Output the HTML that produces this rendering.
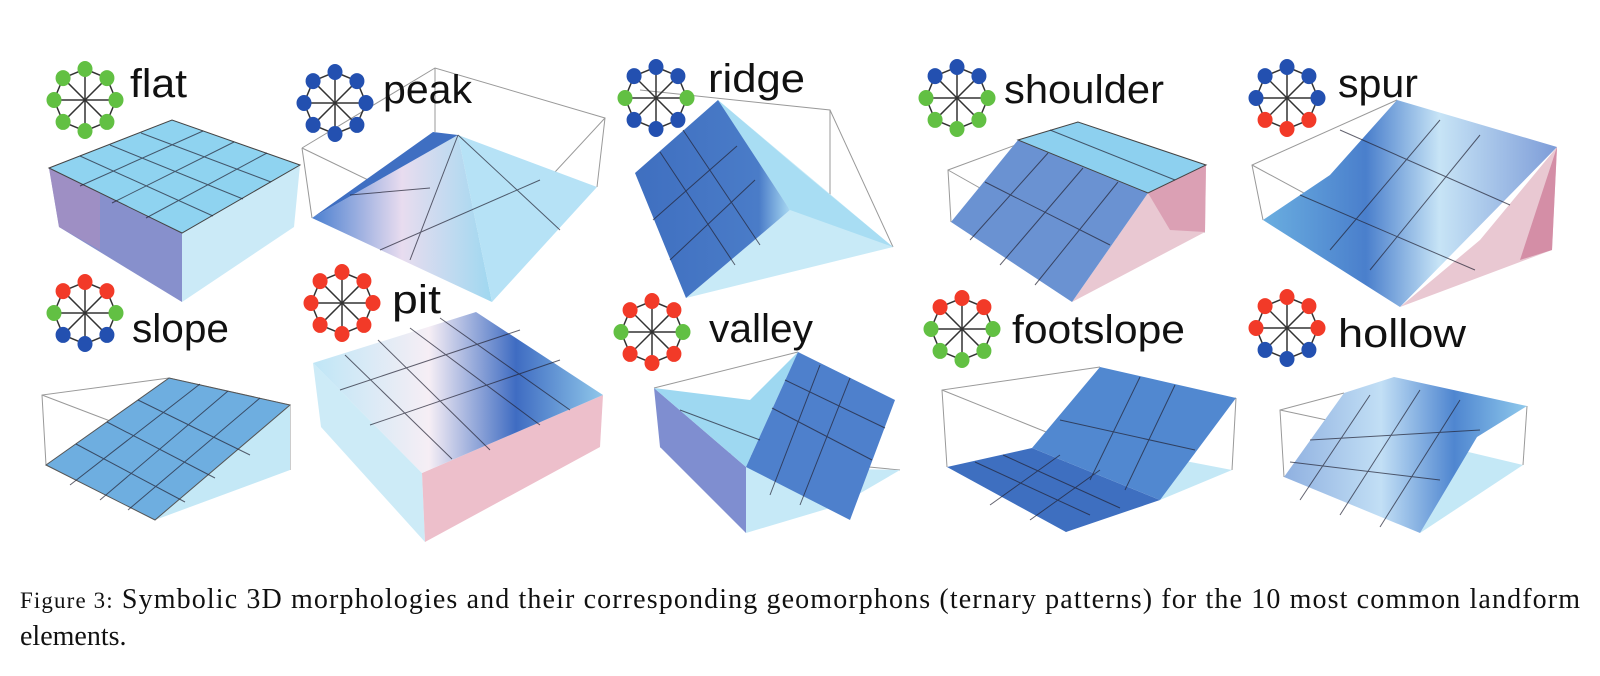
<!DOCTYPE html>
<html><head><meta charset="utf-8"><style>
body{margin:0;background:#fff;width:1600px;height:676px;overflow:hidden}
svg{display:block}
.lb{font-family:"Liberation Sans",sans-serif;font-size:40px;fill:#111}
.cap{font-family:"Liberation Serif",serif;font-size:28px;fill:#111}
.w{fill:none;stroke:#999;stroke-width:1}
.g{fill:none;stroke:#223;stroke-width:1;opacity:.7}
</style></head><body>
<svg width="1600" height="676" viewBox="0 0 1600 676">
<defs>
<linearGradient id="pk" x1="0" y1="0" x2="1" y2="0"><stop offset="0" stop-color="#4a7fd0"/><stop offset=".5" stop-color="#e8dcef"/><stop offset="1" stop-color="#9fd8f0"/></linearGradient>
<linearGradient id="pt" x1="0" y1="0" x2="1" y2="0"><stop offset="0" stop-color="#bfe6f6"/><stop offset=".4" stop-color="#f6eef5"/><stop offset=".7" stop-color="#3f6cc2"/><stop offset="1" stop-color="#8fc7ea"/></linearGradient>
<linearGradient id="sp" x1="0" y1="0" x2="1" y2="0"><stop offset="0" stop-color="#6aaee0"/><stop offset=".35" stop-color="#4a7fcc"/><stop offset=".6" stop-color="#c7e4f6"/><stop offset="1" stop-color="#7d9cd8"/></linearGradient>
<linearGradient id="ho" x1="0" y1="0" x2="1" y2="0"><stop offset="0" stop-color="#8fb0e0"/><stop offset=".4" stop-color="#c2dff5"/><stop offset=".7" stop-color="#4f86d0"/><stop offset="1" stop-color="#8fc9ec"/></linearGradient>
<linearGradient id="rd" x1="0" y1="0" x2="1" y2="0"><stop offset="0" stop-color="#3f6fc0"/><stop offset=".8" stop-color="#4a7cc8"/><stop offset="1" stop-color="#a8d8f2"/></linearGradient>
</defs>

<!-- flat -->
<polygon points="49,168 59,227 182,302 182,233" fill="#8790cc"/>
<polygon points="49,168 59,227 100,250 100,190" fill="#a88fc0" opacity=".7"/>
<polygon points="182,233 182,302 294,227 300,165" fill="#cbeaf7"/>
<polygon points="49,168 172,120 300,165 182,233" fill="#8fd3f0" stroke="#444" stroke-width="1"/>
<g class="g"><line x1="80" y1="156" x2="213" y2="216"/><line x1="110" y1="145" x2="243" y2="199"/><line x1="141" y1="133" x2="271" y2="182"/><line x1="80" y1="186" x2="203" y2="131"/><line x1="112" y1="203" x2="234" y2="142"/><line x1="146" y1="218" x2="267" y2="153"/></g>

<!-- peak -->
<polyline class="w" points="302,148 435,68 605,118 597,187"/><line class="w" x1="302" y1="148" x2="312" y2="218"/><line class="w" x1="435" y1="68" x2="435" y2="132"/><polyline class="w" points="302,148 492,240 605,118"/>
<polygon points="312,218 458,135 492,302" fill="url(#pk)"/>
<polygon points="458,135 597,187 492,302" fill="#b6e2f6"/>
<polygon points="312,218 433,132 458,135" fill="#3f6fc2"/>
<g class="g"><line x1="350" y1="195" x2="430" y2="188"/><line x1="458" y1="135" x2="410" y2="260"/><line x1="458" y1="135" x2="560" y2="230"/><line x1="380" y1="250" x2="540" y2="180"/></g>

<!-- ridge -->
<polyline class="w" points="640,90 830,110 893,247"/><line class="w" x1="830" y1="110" x2="830" y2="200"/>
<polygon points="718,100 893,247 686,298 790,210" fill="#c8eaf7"/>
<polygon points="718,100 800,170 893,247 790,210" fill="#a8ddf3"/>
<polygon points="635,173 718,100 790,210 686,298" fill="url(#rd)"/>
<g class="g"><line x1="660" y1="152" x2="735" y2="265"/><line x1="683" y1="130" x2="760" y2="245"/><line x1="653" y1="220" x2="737" y2="146"/><line x1="670" y1="260" x2="755" y2="180"/></g>

<!-- shoulder -->
<polyline class="w" points="951,222 948,170 1078,122"/><line class="w" x1="948" y1="170" x2="1072" y2="240"/><line class="w" x1="1072" y1="240" x2="1205" y2="232"/>
<polygon points="1148,193 1206,165 1205,232 1072,302" fill="#e9c8d2"/>
<polygon points="1148,193 1206,165 1205,232 1170,230" fill="#d48ea6" opacity=".7"/>
<polygon points="1018,140 1148,193 1072,302 951,222" fill="#6a92d2"/>
<polygon points="1018,140 1078,122 1206,165 1148,193" fill="#8dd0ef" stroke="#444"/>
<g class="g"><line x1="1050" y1="130" x2="1175" y2="180"/><line x1="1048" y1="153" x2="970" y2="240"/><line x1="1083" y1="168" x2="1000" y2="265"/><line x1="1118" y1="182" x2="1035" y2="285"/><line x1="985" y1="182" x2="1110" y2="245"/></g>

<!-- spur -->
<polyline class="w" points="1263,220 1252,165 1397,100"/><line class="w" x1="1252" y1="165" x2="1400" y2="245"/>
<polygon points="1557,147 1552,250 1400,307 1480,240" fill="#e9c8d2"/>
<polygon points="1557,147 1552,250 1520,260" fill="#d48ea6"/>
<polygon points="1263,220 1330,175 1397,100 1557,147 1400,307" fill="url(#sp)"/>
<g class="g"><line x1="1300" y1="195" x2="1475" y2="270"/><line x1="1340" y1="130" x2="1510" y2="205"/><line x1="1330" y1="250" x2="1440" y2="120"/><line x1="1370" y1="270" x2="1480" y2="135"/></g>

<!-- slope -->
<polyline class="w" points="46,465 42,395 169,378 290,405 290,470"/><line class="w" x1="42" y1="395" x2="160" y2="440"/><line class="w" x1="160" y1="440" x2="290" y2="405"/>
<polygon points="155,520 290,470 290,405" fill="#c4e8f6"/>
<polygon points="46,465 169,378 290,405 155,520" fill="#6eaee0" stroke="#555"/>
<g class="g"><line x1="76" y1="444" x2="185" y2="502"/><line x1="107" y1="422" x2="215" y2="478"/><line x1="138" y1="400" x2="250" y2="455"/><line x1="70" y1="485" x2="200" y2="384"/><line x1="100" y1="500" x2="228" y2="391"/><line x1="128" y1="510" x2="260" y2="398"/></g>

<!-- pit -->
<polygon points="313,363 422,473 425,542 321,427" fill="#cdebf7"/>
<polygon points="422,473 603,395 600,447 425,542" fill="#edbfcb"/>
<polygon points="313,363 476,312 603,395 422,473" fill="url(#pt)"/>
<g class="g"><line x1="345" y1="355" x2="452" y2="459"/><line x1="378" y1="340" x2="490" y2="450"/><line x1="410" y1="328" x2="540" y2="425"/><line x1="440" y1="318" x2="570" y2="410"/><line x1="340" y1="390" x2="520" y2="330"/><line x1="370" y1="425" x2="560" y2="360"/></g>

<!-- valley -->
<polyline class="w" points="654,388 798,352"/><line class="w" x1="660" y1="447" x2="900" y2="470"/>
<polygon points="654,388 746,467 746,533 660,447" fill="#7f8ed0"/>
<polygon points="746,533 746,467 900,470 840,505" fill="#c6e9f7"/>
<polygon points="654,388 750,400 798,352 746,467" fill="#9ed8f1"/>
<polygon points="746,467 798,352 895,400 850,520" fill="#4e80cc"/>
<g class="g"><line x1="772" y1="408" x2="872" y2="460"/><line x1="785" y1="380" x2="885" y2="428"/><line x1="820" y1="365" x2="770" y2="495"/><line x1="850" y1="378" x2="800" y2="505"/><line x1="680" y1="410" x2="760" y2="440"/></g>

<!-- footslope -->
<polyline class="w" points="947,467 942,390 1100,367"/><line class="w" x1="942" y1="390" x2="1066" y2="440"/><line class="w" x1="1066" y1="440" x2="1066" y2="532"/><line class="w" x1="1066" y1="440" x2="1236" y2="398"/><line class="w" x1="1236" y1="398" x2="1232" y2="470"/>
<polygon points="1160,500 1232,470 1180,460" fill="#c4e8f6"/>
<polygon points="947,467 1032,448 1160,500 1066,532" fill="#3e6fc0"/>
<polygon points="1032,448 1100,367 1236,398 1160,500" fill="#5188d0"/>
<g class="g"><line x1="975" y1="462" x2="1090" y2="515"/><line x1="1003" y1="455" x2="1120" y2="508"/><line x1="990" y1="505" x2="1060" y2="455"/><line x1="1030" y1="520" x2="1100" y2="470"/><line x1="1060" y1="420" x2="1195" y2="450"/><line x1="1140" y1="377" x2="1090" y2="480"/><line x1="1175" y1="385" x2="1125" y2="490"/></g>

<!-- hollow -->
<polyline class="w" points="1284,477 1280,410 1344,393"/><line class="w" x1="1280" y1="410" x2="1420" y2="440"/><line class="w" x1="1527" y1="406" x2="1523" y2="465"/>
<polygon points="1420,533 1523,465 1460,450" fill="#c4e8f6"/>
<polygon points="1284,477 1344,393 1394,377 1527,406 1477,437 1420,533" fill="url(#ho)"/>
<g class="g"><line x1="1310" y1="440" x2="1480" y2="430"/><line x1="1300" y1="500" x2="1370" y2="395"/><line x1="1340" y1="515" x2="1420" y2="390"/><line x1="1380" y1="527" x2="1460" y2="400"/><line x1="1290" y1="462" x2="1440" y2="480"/></g>

<g id="icons"></g>

<text class="lb" x="130" y="97" textLength="57" lengthAdjust="spacingAndGlyphs">flat</text>
<text class="lb" x="383" y="103" textLength="89" lengthAdjust="spacingAndGlyphs">peak</text>
<text class="lb" x="708" y="92" textLength="97" lengthAdjust="spacingAndGlyphs">ridge</text>
<text class="lb" x="1004" y="103" textLength="160" lengthAdjust="spacingAndGlyphs">shoulder</text>
<text class="lb" x="1338" y="97" textLength="80" lengthAdjust="spacingAndGlyphs">spur</text>
<text class="lb" x="132" y="342" textLength="97" lengthAdjust="spacingAndGlyphs">slope</text>
<text class="lb" x="392" y="313" textLength="49" lengthAdjust="spacingAndGlyphs">pit</text>
<text class="lb" x="709" y="342" textLength="104" lengthAdjust="spacingAndGlyphs">valley</text>
<text class="lb" x="1012" y="343" textLength="173" lengthAdjust="spacingAndGlyphs">footslope</text>
<text class="lb" x="1338" y="347" textLength="128" lengthAdjust="spacingAndGlyphs">hollow</text>

<text class="cap" x="20" y="608" textLength="1560" lengthAdjust="spacing"><tspan font-size="23">Figure 3:</tspan> Symbolic 3D morphologies and their corresponding geomorphons (ternary patterns) for the 10 most common landform</text>
<text class="cap" x="20" y="645">elements.</text>
</svg>
<script>
const G='#62c043',B='#2350b0',R='#f23a28';
const icons=[
[85,100,[G,G,G,G,G,G,G,G]],
[335,103,[B,B,B,B,B,B,B,B]],
[656,98,[B,B,G,B,B,B,G,B]],
[957,98,[B,B,G,G,G,G,G,B]],
[1287,98,[B,B,B,R,R,R,B,B]],
[85,313,[R,R,G,B,B,B,G,R]],
[342,303,[R,R,R,R,R,R,R,R]],
[652,332,[R,R,G,R,R,R,G,R]],
[962,329,[R,R,G,G,G,G,G,R]],
[1287,328,[R,R,R,B,B,B,R,R]]];
let s='';
for(const [cx,cy,c] of icons){
 const r=31;let pts=[];
 for(let i=0;i<8;i++){const a=-Math.PI/2+i*Math.PI/4;pts.push([cx+r*Math.cos(a),cy+r*Math.sin(a)]);}
 s+=`<polygon points="${pts.map(p=>p.join(',')).join(' ')}" fill="none" stroke="#333" stroke-width="1.5"/>`;
 for(const p of pts) s+=`<line x1="${cx}" y1="${cy}" x2="${p[0]}" y2="${p[1]}" stroke="#333" stroke-width="1.5"/>`;
 pts.forEach((p,i)=>{s+=`<ellipse cx="${p[0]}" cy="${p[1]}" rx="7.5" ry="8" fill="${c[i]}"/>`;});
}
document.getElementById('icons').innerHTML=s;
</script>
</body></html>
